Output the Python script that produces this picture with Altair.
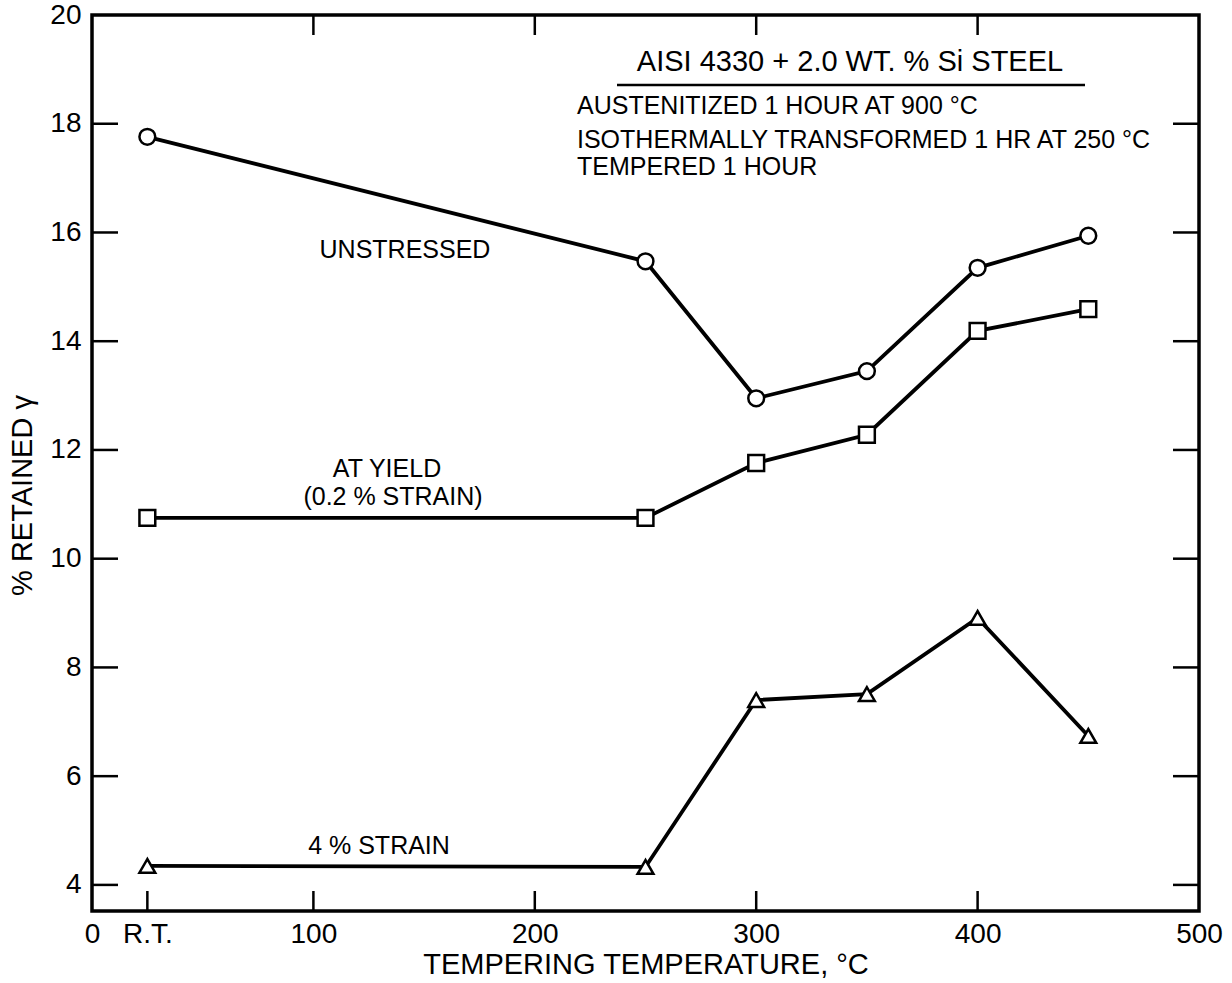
import altair as alt
import pandas as pd

# Tempering temperature (°C); room temperature plotted at 25
temps = [25, 250, 300, 350, 400, 450]
unstressed = [17.76, 15.47, 12.95, 13.45, 15.35, 15.94]
at_yield = [10.75, 10.75, 11.76, 12.28, 14.19, 14.59]
strain_4pct = [4.35, 4.33, 7.40, 7.51, 8.91, 6.74]

series_names = ["UNSTRESSED", "AT YIELD", "4% STRAIN"]
series_shapes = ["circle", "square", "triangle-up"]

x_tick_values = [0, 25, 100, 200, 300, 400, 500]
y_tick_values = [4, 6, 8, 10, 12, 14, 16, 18, 20]
inner_y_ticks = [4, 6, 8, 10, 12, 14, 16, 18]
inner_x_ticks_bottom = [25, 100, 200, 300, 400]
inner_x_ticks_top = [100, 200, 300, 400]

W, H = 1107, 896
FONT = "Liberation Sans"

rows = []
for name, vals in zip(series_names, [unstressed, at_yield, strain_4pct]):
    for t, v in zip(temps, vals):
        rows.append({"series": name, "temp": t, "ret": v})
df = pd.DataFrame(rows)

xscale = alt.Scale(domain=[0, 500], nice=False, zero=False)
yscale = alt.Scale(domain=[3.52, 20], nice=False, zero=False)

x_enc = alt.X(
    "temp:Q",
    scale=xscale,
    axis=alt.Axis(
        values=x_tick_values,
        labelExpr="datum.value == 25 ? 'R.T.' : datum.label",
        ticks=False, domain=False, grid=False,
        labelFontSize=28, labelFont=FONT, labelColor="black",
        labelPadding=9, labelFlush=False,
        title="TEMPERING TEMPERATURE, °C",
        titleFontSize=29, titleFont=FONT, titleFontWeight="normal",
        titleColor="black", titlePadding=2,
    ),
)
y_enc = alt.Y(
    "ret:Q",
    scale=yscale,
    axis=alt.Axis(
        values=y_tick_values,
        ticks=False, domain=False, grid=False,
        labelFontSize=28, labelFont=FONT, labelColor="black",
        labelPadding=11, labelFlush=False,
        title="% RETAINED γ",
        titleFontSize=29, titleFont=FONT, titleFontWeight="normal",
        titleColor="black", titleX=-70, titleY=480,
        titleBaseline="middle", titleAlign="center", titleAngle=270,
    ),
)

lines = alt.Chart(df).mark_line(color="black", strokeWidth=3.8).encode(
    x=x_enc, y=y_enc, detail="series:N"
)
points = alt.Chart(df).mark_point(
    filled=True, fill="white", stroke="black", strokeWidth=2.5, size=250, opacity=1
).encode(
    x="temp:Q",
    y="ret:Q",
    shape=alt.Shape("series:N",
                    scale=alt.Scale(domain=series_names, range=series_shapes),
                    legend=None),
)

# inward tick marks on all four sides
ytick_df = pd.DataFrame({"v": inner_y_ticks})
left_ticks = alt.Chart(ytick_df).mark_rule(color="black", strokeWidth=2.5).encode(
    y=alt.Y("v:Q", scale=yscale), x=alt.value(0), x2=alt.value(26)
)
right_ticks = alt.Chart(ytick_df).mark_rule(color="black", strokeWidth=2.5).encode(
    y=alt.Y("v:Q", scale=yscale), x=alt.value(W), x2=alt.value(W - 26)
)
bottom_ticks = alt.Chart(pd.DataFrame({"v": inner_x_ticks_bottom})).mark_rule(
    color="black", strokeWidth=2.5
).encode(x=alt.X("v:Q", scale=xscale), y=alt.value(H), y2=alt.value(H - 20))
top_ticks = alt.Chart(pd.DataFrame({"v": inner_x_ticks_top})).mark_rule(
    color="black", strokeWidth=2.5
).encode(x=alt.X("v:Q", scale=xscale), y=alt.value(0), y2=alt.value(20))

# text annotations (pixel positions within the plot area)
notes = pd.DataFrame([
    {"text": "AISI 4330 + 2.0 WT. % Si STEEL", "px": 758, "py": 47, "size": 29, "align": "center"},
    {"text": "AUSTENITIZED 1 HOUR AT 900 °C", "px": 485, "py": 91, "size": 25, "align": "left"},
    {"text": "ISOTHERMALLY TRANSFORMED 1 HR AT 250 °C", "px": 485, "py": 125, "size": 25, "align": "left"},
    {"text": "TEMPERED 1 HOUR", "px": 485, "py": 152, "size": 25, "align": "left"},
    {"text": "UNSTRESSED", "px": 313, "py": 235, "size": 25, "align": "center"},
    {"text": "AT YIELD", "px": 295, "py": 454, "size": 25, "align": "center"},
    {"text": "(0.2 % STRAIN)", "px": 301, "py": 482, "size": 25, "align": "center"},
    {"text": "4 % STRAIN", "px": 287, "py": 831, "size": 25, "align": "center"},
])


def note_layer(sub):
    return alt.Chart(sub).mark_text(
        font=FONT, color="black", baseline="middle",
        align=sub["align"].iloc[0], fontSize=int(sub["size"].iloc[0])
    ).encode(
        x=alt.X("px:Q", scale=None),
        y=alt.Y("py:Q", scale=None),
        text="text:N",
    )


title_note = note_layer(notes.iloc[[0]])
block_notes = note_layer(notes.iloc[1:4])
curve_notes = note_layer(notes.iloc[4:])

underline = alt.Chart(pd.DataFrame({"a": [0]})).mark_rule(
    color="black", strokeWidth=2.5
).encode(x=alt.value(525), x2=alt.value(993), y=alt.value(70))

chart = alt.layer(
    lines, points, left_ticks, right_ticks, bottom_ticks, top_ticks,
    title_note, block_notes, curve_notes, underline,
).properties(
    width=W, height=H,
    autosize=alt.AutoSizeParams(type="none"),
    padding={"left": 92, "top": 15, "right": 33, "bottom": 72},
    background="white",
).configure_view(
    stroke="black", strokeWidth=3.5
)

chart.save("out.html", embed_options={"renderer": "svg", "actions": False})
